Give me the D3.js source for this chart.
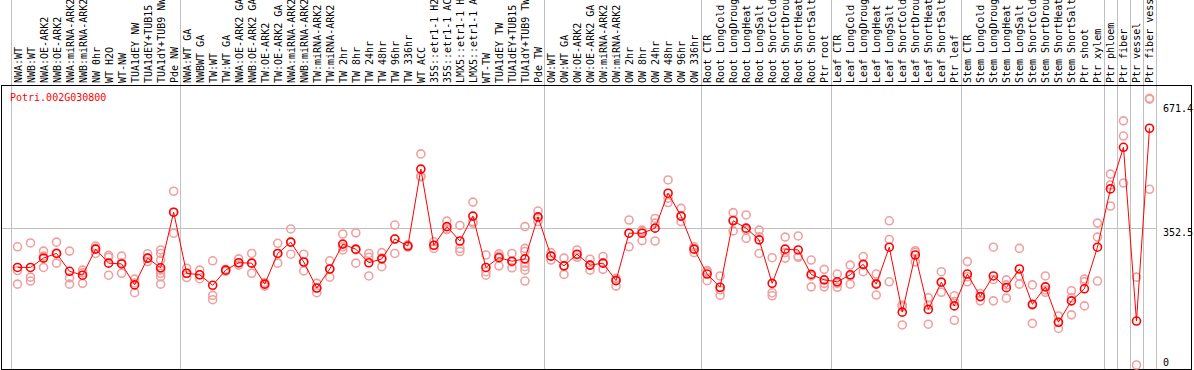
<!DOCTYPE html>
<html lang="en">
<head>
<meta charset="utf-8" />
<title>Potri.002G030800</title>
<style>
  body { margin: 0; background: #fff; }
  svg text { font-family: "DejaVu Sans Mono", monospace; font-size: 10px; }
</style>
<script src="https://cdn.jsdelivr.net/npm/d3@7/dist/d3.min.js"></script>
</head>
<body>
<script>
// sample names, left to right
var categories = [
  'NWA:WT', 'NWB:WT', 'NWA:OE-ARK2', 'NWB:OE-ARK2', 'NWA:miRNA-ARK2', 'NWB:miRNA-ARK2',
  'NW 0hr', 'WT H2O', 'WT-NW', 'TUA1dEY NW', 'TUA1dEY+TUB15 NW', 'TUA1dY+TUB9 NW', 'Pde NW',
  'NWA:WT GA', 'NWBWT GA', 'TW:WT', 'TW:WT GA', 'NWA:OE-ARK2 GA', 'NWB:OE-ARK2 GA',
  'TW:OE-ARK2', 'TW:OE-ARK2 GA', 'NWA:miRNA-ARK2', 'NWB:miRNA-ARK2', 'TW:miRNA-ARK2',
  'TW:miRNA-ARK2', 'TW 2hr', 'TW 8hr', 'TW 24hr', 'TW 48hr', 'TW 96hr', 'TW 336hr', 'WT ACC',
  '35S::etr1-1 H2O', '35S::etr1-1 ACC', 'LMX5::etr1-1 H2O', 'LMX5::etr1-1 ACC', 'WT-TW',
  'TUA1dEY TW', 'TUA1dEY+TUB15 TW', 'TUA1dY+TUB9 TW', 'Pde TW',
  'OW:WT', 'OW:WT GA', 'OW:OE-ARK2', 'OW:OE-ARK2 GA', 'OW:miRNA-ARK2', 'OW:miRNA-ARK2',
  'OW 2hr', 'OW 8hr', 'OW 24hr', 'OW 48hr', 'OW 96hr', 'OW 336hr',
  'Root CTR', 'Root LongCold', 'Root LongDrought', 'Root LongHeat', 'Root LongSalt',
  'Root ShortCold', 'Root ShortDrought', 'Root ShortHeat', 'Root ShortSalt', 'Ptr root',
  'Leaf CTR', 'Leaf LongCold', 'Leaf LongDrought', 'Leaf LongHeat', 'Leaf LongSalt',
  'Leaf ShortCold', 'Leaf ShortDrought', 'Leaf ShortHeat', 'Leaf ShortSalt', 'Ptr leaf',
  'Stem CTR', 'Stem LongCold', 'Stem LongDrought', 'Stem LongHeat', 'Stem LongSalt',
  'Stem ShortCold', 'Stem ShortDrought', 'Stem ShortHeat', 'Stem ShortSalt', 'Ptr shoot', 'Ptr xylem',
  'Ptr phloem', 'Ptr fiber', 'Ptr vessel', 'Ptr fiber vessel'
];

// number of samples in each block (blocks are split by grey lines)
var groupSizes = [13, 28, 12, 10, 10, 11, 1, 1, 1, 1];

// mean expression per sample
var means = [
  251, 251, 275, 287, 241, 231, 298, 262, 260, 206, 275, 250, 393,
  236, 232, 205, 244, 263, 262, 208, 287, 316, 265, 198, 247, 311, 298, 263, 273, 324, 306,
  504, 308, 356, 319, 383, 251, 276, 267, 273, 381,
  280, 255, 285, 257, 262, 217, 339, 339, 352, 442, 383, 298,
  234, 200, 371, 352, 322, 210, 298, 296, 233, 219,
  214, 232, 259, 208, 303, 136, 283, 143, 213, 152,
  234, 176, 229, 199, 247, 156, 201, 110, 165, 196, 303,
  453, 560, 113, 609
];

// individual replicates per sample
var replicates = [
  [304, 243, 208], [314, 226, 216], [293, 280, 251], [316, 288, 262], [293, 224, 208],
  [244, 237, 210], [306, 300, 287], [282, 277, 231], [280, 263, 236], [221, 211, 186],
  [286, 275, 266], [296, 287, 270, 244, 236, 227, 208], [447, 393, 339],
  [249, 236, 225], [244, 232, 222], [268, 179, 168], [246, 244, 241], [273, 263, 257],
  [287, 262, 236], [212, 208, 203], [313, 287, 262], [350, 316, 285], [285, 265, 242],
  [210, 198, 186], [268, 247, 226], [337, 304, 296], [340, 296, 262], [287, 277, 229],
  [289, 275, 253], [360, 324, 287], [309, 306, 303], [543, 486, 484], [317, 308, 300],
  [370, 349, 349], [359, 300, 292], [419, 369, 365], [283, 240, 231], [286, 280, 255],
  [287, 265, 250], [356, 300, 292, 262, 253, 244, 216], [396, 379, 369],
  [289, 280, 270], [275, 255, 233], [296, 283, 277], [272, 257, 244], [279, 262, 246],
  [223, 219, 203], [373, 339, 304], [347, 343, 320], [377, 365, 319], [476, 429, 418],
  [403, 382, 369], [304, 298, 289],
  [243, 240, 217], [229, 193, 179], [392, 373, 345], [386, 347, 326], [347, 330, 287],
  [276, 186, 178], [329, 289, 275], [332, 280, 277], [270, 229, 201], [246, 210, 201],
  [234, 210, 200], [257, 229, 208], [279, 257, 240], [234, 210, 180], [371, 323, 214],
  [154, 150, 103], [294, 290, 265], [173, 154, 105], [240, 214, 187], [178, 163, 115],
  [266, 227, 214], [184, 176, 165], [303, 220, 165], [219, 206, 172], [300, 229, 208],
  [206, 154, 107], [229, 193, 187], [126, 110, 94], [191, 173, 129], [221, 214, 152],
  [365, 329, 216],
  [491, 463, 409], [628, 589, 468], [226, 0], [686, 684, 452]
];

var yTicks = [0, 352.5, 671.4];
var title = 'Potri.002G030800';

var width = 1194, height = 370,
    plotLeft = 11, plotRight = 1156,   // area covered by the samples
    boxLeft = 1.5, boxRight = 1191.5,  // black frame
    headerBottom = 85.5, boxBottom = 369.5;

var svg = d3.select('body').append('svg')
    .attr('width', width)
    .attr('height', height);

var x = d3.scaleBand()
    .domain(d3.range(categories.length))
    .range([plotLeft, plotRight])
    .paddingInner(0).paddingOuter(0);

var y = d3.scaleLinear()
    .domain([0, 671.4])
    .range([365, 104]);

function cx(i) { return x(i) + x.bandwidth() / 2; }

// block separators, full height
var edges = [0];
groupSizes.forEach(function(n) { edges.push(edges[edges.length - 1] + n); });

svg.selectAll('line.sep')
    .data(edges)
    .enter().append('line')
    .attr('class', 'sep')
    .attr('x1', function(k) { return Math.round(plotLeft + k * x.step()) + 0.5; })
    .attr('x2', function(k) { return Math.round(plotLeft + k * x.step()) + 0.5; })
    .attr('y1', 0)
    .attr('y2', boxBottom)
    .attr('stroke', '#c0c0c0');

// grid line at the middle tick
svg.append('line')
    .attr('x1', boxLeft).attr('x2', plotRight)
    .attr('y1', Math.round(y(yTicks[1])) + 0.5)
    .attr('y2', Math.round(y(yTicks[1])) + 0.5)
    .attr('stroke', '#c0c0c0');

// frame round the plot area
svg.append('rect')
    .attr('x', boxLeft).attr('y', headerBottom)
    .attr('width', boxRight - boxLeft)
    .attr('height', boxBottom - headerBottom)
    .attr('fill', 'none')
    .attr('stroke', '#000');

// rotated sample names in the header
svg.selectAll('text.cat')
    .data(categories)
    .enter().append('text')
    .attr('class', 'cat')
    .attr('transform', function(d, i) {
        return 'translate(' + (cx(i) + 4) + ',83) rotate(-90)';
    })
    .attr('fill', '#000')
    .text(function(d) { return d; });

svg.append('text')
    .attr('x', 10).attr('y', 101)
    .attr('fill', '#ff0000')
    .text(title);

// value labels on the right
svg.selectAll('text.tick')
    .data(yTicks)
    .enter().append('text')
    .attr('class', 'tick')
    .attr('x', 1163)
    .attr('y', function(d) { return d === 0 ? 366 : y(d) + 8; })
    .attr('fill', '#000')
    .text(function(d) { return d; });

// replicates
var reps = [];
replicates.forEach(function(vals, i) {
    vals.forEach(function(v) { reps.push({ i: i, v: v }); });
});

svg.selectAll('circle.rep')
    .data(reps)
    .enter().append('circle')
    .attr('class', 'rep')
    .attr('cx', function(d) { return cx(d.i); })
    .attr('cy', function(d) { return y(d.v); })
    .attr('r', 4)
    .attr('fill', 'none')
    .attr('stroke', '#f0a0a0')
    .attr('stroke-width', 1.6);

// mean line
var line = d3.line()
    .x(function(d, i) { return cx(i); })
    .y(function(d) { return y(d); });

svg.append('path')
    .datum(means)
    .attr('d', line)
    .attr('fill', 'none')
    .attr('stroke', '#ff0000')
    .attr('stroke-width', 1);

svg.selectAll('circle.mean')
    .data(means)
    .enter().append('circle')
    .attr('class', 'mean')
    .attr('cx', function(d, i) { return cx(i); })
    .attr('cy', function(d) { return y(d); })
    .attr('r', 4)
    .attr('fill', 'none')
    .attr('stroke', '#ff0000')
    .attr('stroke-width', 1.6);
</script>
</body>
</html>
